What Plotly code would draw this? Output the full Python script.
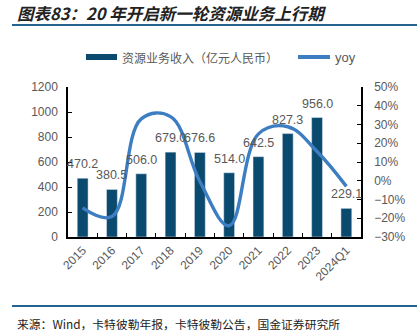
import plotly.graph_objects as go

categories = ["2015", "2016", "2017", "2018", "2019", "2020", "2021", "2022", "2023", "2024Q1"]
revenue = [470.2, 380.5, 506.0, 679.0, 676.6, 514.0, 642.5, 827.3, 956.0, 229.1]
yoy = [-14.5, -19.1, 33.0, 34.2, -0.4, -24.0, 25.0, 28.8, 15.6, -3.0]
revenue_labels = ["470.2", "380.5", "506.0", "679.0", "676.6", "514.0", "642.5", "827.3", "956.0", "229.1"]

BAR_C = "#0b4a6f"
LINE_C = "#3d7ec3"
GRAY = "#595959"
FONT = "Liberation Sans, Arial, Noto Sans CJK SC, sans-serif"
CJK = "Noto Sans CJK SC, sans-serif"

W, H = 417, 333
L, R, T, B = 68, 56, 87, 96
pw, ph = W - L - R, H - T - B

def px(x):
    return (x - L) / pw

def py(y):
    return (H - B - y) / ph

fig = go.Figure()
fig.add_trace(go.Bar(x=categories, y=revenue, marker_color=BAR_C, width=0.37,
                     showlegend=False, yaxis="y"))
fig.add_trace(go.Scatter(x=categories, y=yoy, mode="lines", yaxis="y2",
                         line=dict(color=LINE_C, width=3.4, shape="spline", smoothing=1.1),
                         showlegend=False))

annotations = []
for i, (v, t) in enumerate(zip(revenue, revenue_labels)):
    annotations.append(dict(x=i, y=v, xref="x", yref="y", text=t, showarrow=False,
                            yshift=14, font=dict(size=12.5, color=GRAY, family=FONT)))

# title
annotations.append(dict(xref="paper", yref="paper", x=px(15), y=py(13), xanchor="left", yanchor="middle",
                        text="<b><i>图表83：20 年开启新一轮资源业务上行期</i></b>", showarrow=False,
                        font=dict(size=16.5, color="#222222", family=CJK)))
# footer
annotations.append(dict(xref="paper", yref="paper", x=px(15), y=py(323), xanchor="left", yanchor="middle",
                        text="来源：Wind，卡特彼勒年报，卡特彼勒公告，国金证券研究所", showarrow=False,
                        font=dict(size=11.8, color="#222222", family=CJK)))
# legend texts
annotations.append(dict(xref="paper", yref="paper", x=px(120), y=py(57), xanchor="left", yanchor="middle",
                        text="资源业务收入（亿元人民币）", showarrow=False,
                        font=dict(size=12, color=GRAY, family=CJK)))
annotations.append(dict(xref="paper", yref="paper", x=px(333), y=py(57), xanchor="left", yanchor="middle",
                        text="yoy", showarrow=False,
                        font=dict(size=13, color=GRAY, family=FONT)))

shapes = [
    dict(type="line", xref="paper", yref="paper", x0=px(12), x1=px(417), y0=py(25), y1=py(25),
         line=dict(color="#24638f", width=2)),
    dict(type="line", xref="paper", yref="paper", x0=px(12), x1=px(417), y0=py(306), y1=py(306),
         line=dict(color="#24638f", width=2)),
    dict(type="line", xref="paper", yref="paper", x0=px(86), x1=px(117), y0=py(57), y1=py(57),
         line=dict(color=BAR_C, width=6)),
    dict(type="line", xref="paper", yref="paper", x0=px(298), x1=px(330), y0=py(57), y1=py(57),
         line=dict(color=LINE_C, width=4)),
]

fig.update_layout(
    width=W, height=H,
    margin=dict(l=L, r=R, t=T, b=B, pad=0),
    paper_bgcolor="white", plot_bgcolor="white",
    font=dict(family=FONT, size=12, color=GRAY),
    showlegend=False,
    bargap=0.6,
    xaxis=dict(type="category", showline=True, linecolor="black", linewidth=1.5,
               ticks="inside", ticklen=4, tickcolor="black", tickson="boundaries",
               tickangle=-45, tickfont=dict(size=12, color=GRAY), showgrid=False,
               range=[-0.5, 9.5]),
    yaxis=dict(range=[0, 1200], dtick=200, showline=True, linecolor="black", linewidth=1.5,
               ticks="inside", ticklen=4, tickcolor="black", showgrid=False, zeroline=False,
               tickfont=dict(size=12, color=GRAY), ticklabelstandoff=6),
    yaxis2=dict(range=[-30, 50], dtick=10, ticksuffix="%", overlaying="y", side="right",
                showline=True, linecolor="black", linewidth=1.5, ticks="inside", ticklen=4,
                tickcolor="black", showgrid=False, zeroline=False,
                tickfont=dict(size=12, color=GRAY), ticklabelstandoff=9),
    annotations=annotations,
    shapes=shapes,
)

fig.write_html("out.html")
